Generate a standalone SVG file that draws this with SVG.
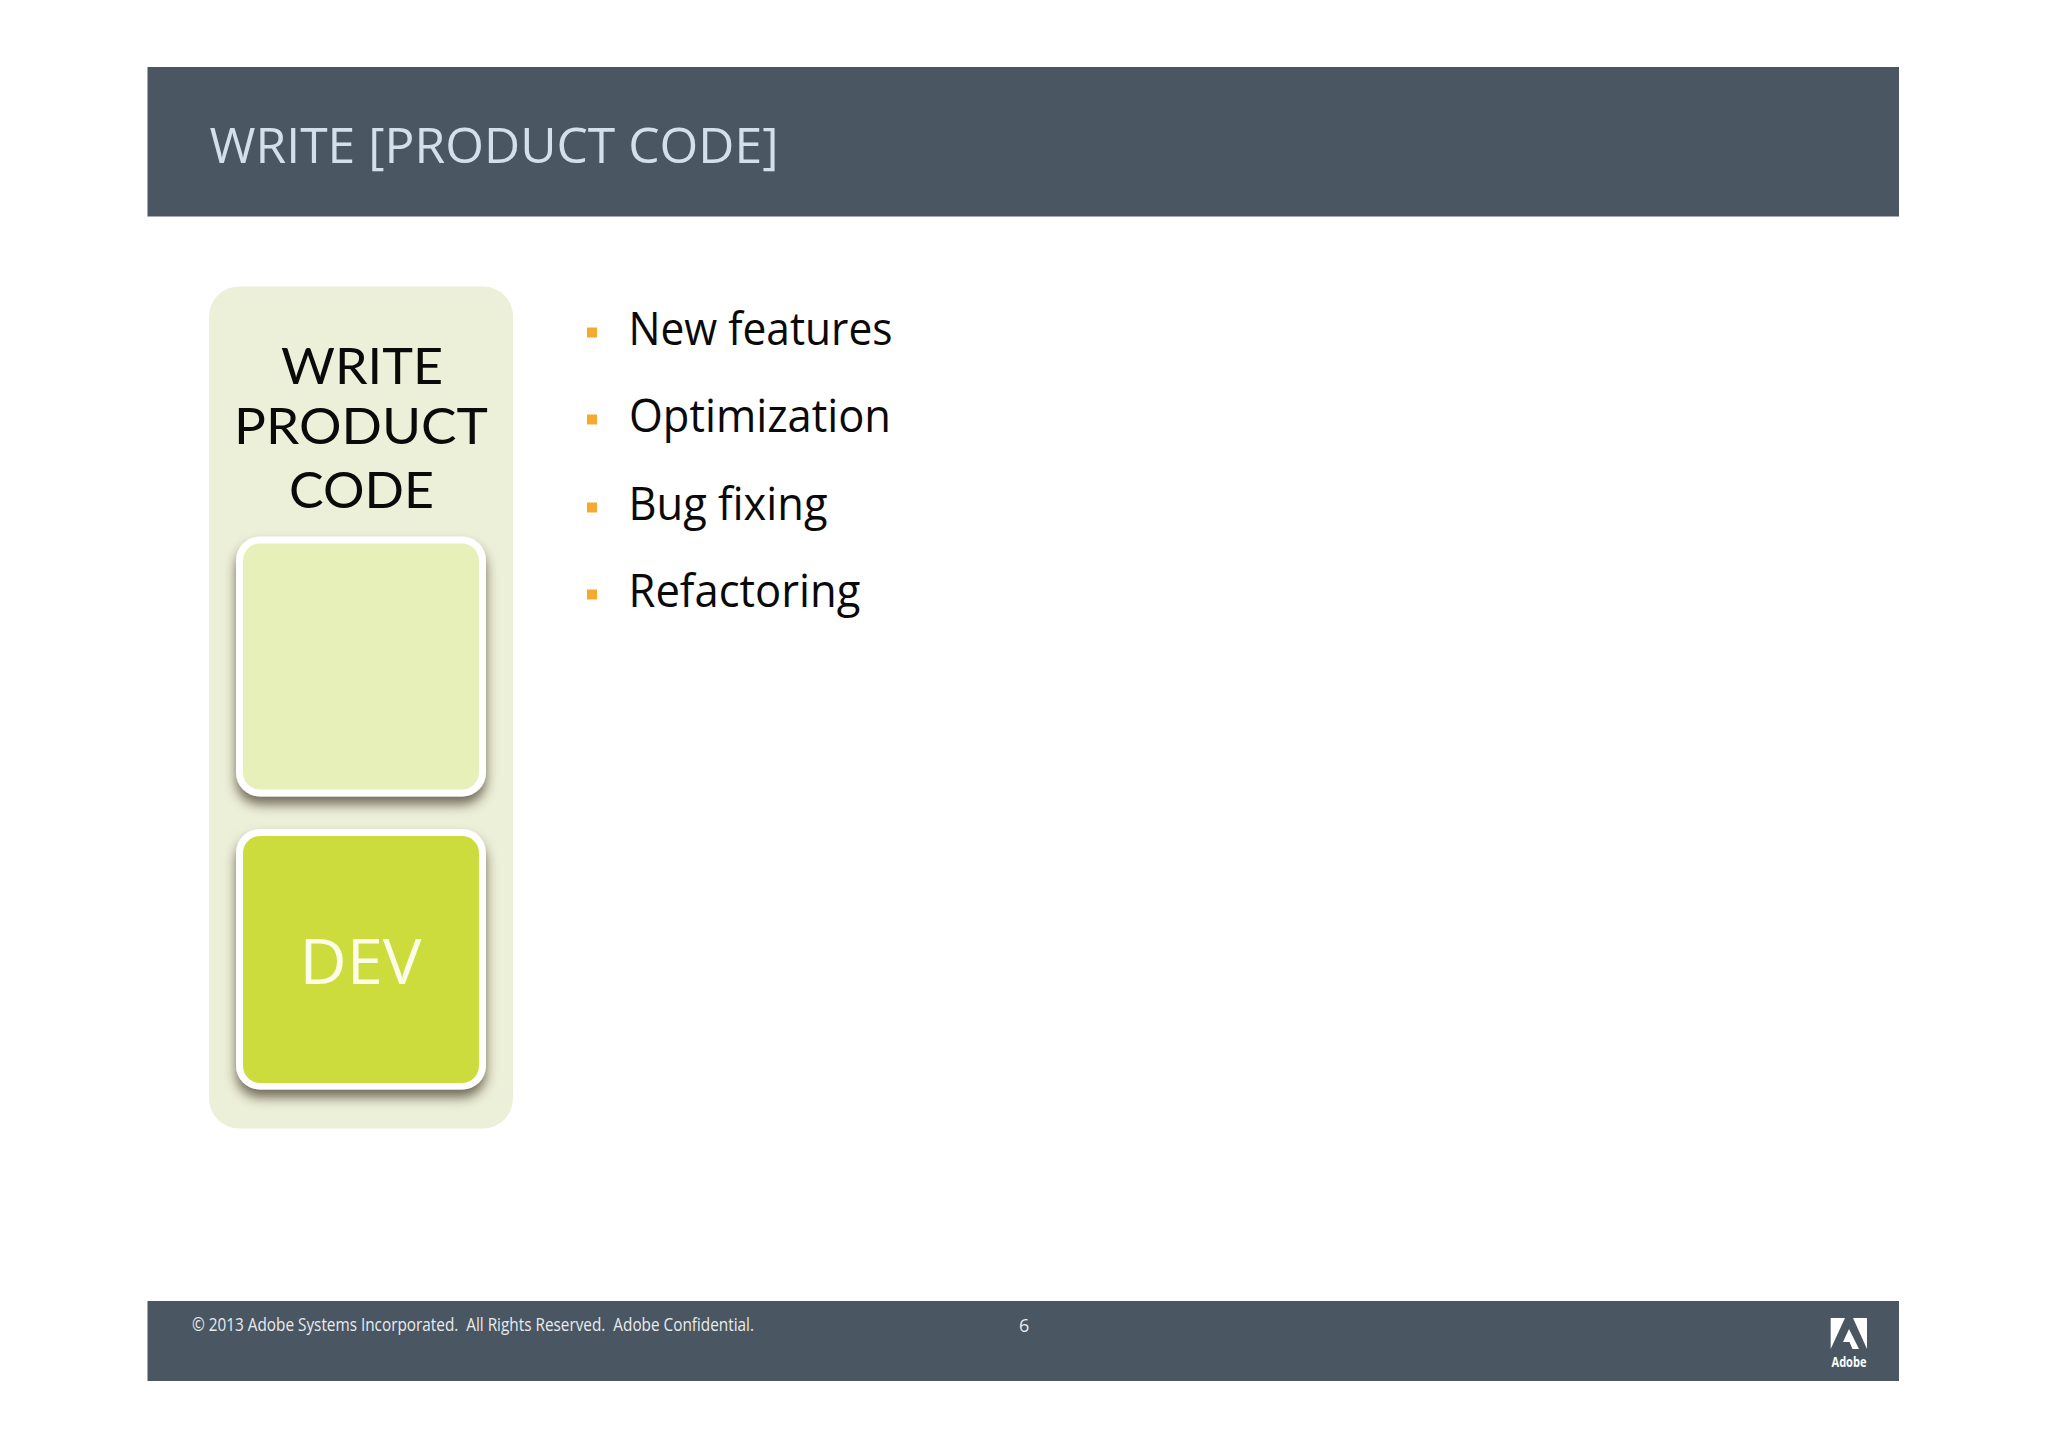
<svg xmlns="http://www.w3.org/2000/svg" width="2048" height="1447" viewBox="0 0 2048 1447">
<style>
text{font-family:"Open Sans","Noto Sans","Liberation Sans",sans-serif}
.band{fill:#4a5661}
.head{font-family:Lato,"Open Sans",sans-serif;font-size:50px;fill:#0a0a0a}
.item{font-size:45px;fill:#0a0a0a}
.bul{fill:#f5a92f}
.card{fill:#fff;filter:url(#sh)}
.foot{font-size:18px;fill:#e8ecef;white-space:pre}
</style>
<defs>
<filter id="sh" x="-15%" y="-15%" width="130%" height="130%">
<feDropShadow dx="0" dy="8" stdDeviation="6" flood-color="#3f3520" flood-opacity="0.7"/>
</filter>
</defs>
<rect width="2048" height="1447" fill="#fff"/>
<g id="header">
<rect class="band" x="147.5" y="67" width="1751.5" height="149.5"/>
<text x="209.5" y="163" font-size="49" font-weight="400" fill="#d5dfe9" textLength="569" lengthAdjust="spacingAndGlyphs">WRITE [PRODUCT CODE]</text>
</g>
<g id="panel">
<rect x="209" y="286.5" width="304" height="842" rx="30" fill="#edf0d9"/>
<text class="head" x="281" y="383.5" textLength="162" lengthAdjust="spacingAndGlyphs">WRITE</text>
<text class="head" x="234" y="444" textLength="254" lengthAdjust="spacingAndGlyphs">PRODUCT</text>
<text class="head" x="289" y="507.5" textLength="145" lengthAdjust="spacingAndGlyphs">CODE</text>
</g>
<g id="card-empty">
<rect class="card" x="236" y="536.5" width="250" height="260" rx="24"/>
<rect x="243" y="543.5" width="236" height="246" rx="17" fill="#e8f0b9"/>
</g>
<g id="card-dev">
<rect class="card" x="236" y="829" width="250" height="260.5" rx="24"/>
<rect x="243" y="836" width="236" height="247" rx="17" fill="#cbdc3c"/>
<text x="299.5" y="984" font-size="62" font-weight="400" fill="#fbfde8" textLength="122" lengthAdjust="spacingAndGlyphs">DEV</text>
</g>
<g id="list">
<rect class="bul" x="587" y="327.5" width="10" height="10"/>
<text class="item" x="628.5" y="345" textLength="264" lengthAdjust="spacingAndGlyphs">New features</text>
<rect class="bul" x="587" y="414.5" width="10" height="10"/>
<text class="item" x="629" y="432" textLength="262" lengthAdjust="spacingAndGlyphs">Optimization</text>
<rect class="bul" x="587" y="502.5" width="10" height="10"/>
<text class="item" x="628.5" y="520" textLength="199" lengthAdjust="spacingAndGlyphs">Bug fixing</text>
<rect class="bul" x="587" y="589.5" width="10" height="10"/>
<text class="item" x="628.5" y="607" textLength="232" lengthAdjust="spacingAndGlyphs">Refactoring</text>
</g>
<g id="footer">
<rect class="band" x="147.5" y="1301" width="1751.5" height="80"/>
<text class="foot" x="192" y="1331" textLength="562" lengthAdjust="spacingAndGlyphs">© 2013 Adobe Systems Incorporated.  All Rights Reserved.  Adobe Confidential.</text>
<text class="foot" x="1019" y="1332">6</text>
<g id="logo" fill="#fff">
<polygon points="1830.7,1318 1845,1318 1830.7,1349"/>
<polygon points="1853,1318 1867,1318 1867,1349"/>
<polygon points="1849,1329 1859,1349 1852.5,1349 1849.5,1342 1843,1342"/>
<text x="1831.5" y="1367" font-size="15" font-weight="700" textLength="35" lengthAdjust="spacingAndGlyphs">Adobe</text>
</g>
</g>
</svg>
